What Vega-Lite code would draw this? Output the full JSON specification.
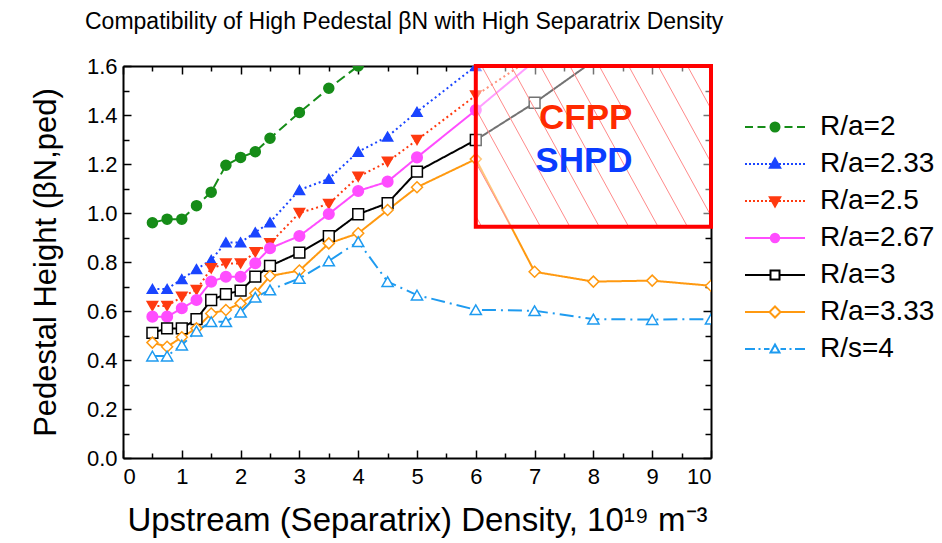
{
  "$schema": "https://vega.github.io/schema/vega-lite/v6.json",
  "width": 588,
  "height": 392,
  "autosize": {"type": "none"},
  "padding": {"left": 123, "top": 66, "right": 231, "bottom": 85},
  "background": "white",
  "config": {"view": {"stroke": null}, "font": "Liberation Sans"},
  "title": {
    "text": "Compatibility of High Pedestal βN with High Separatrix Density",
    "anchor": "start",
    "frame": "group",
    "dx": -38,
    "offset": 21,
    "font": "Liberation Sans",
    "fontSize": 23,
    "fontWeight": "normal",
    "color": "black"
  },
  "datasets": {
    "series": [
      {"s": "R/a=2", "x": 0.5, "y": 0.96}, {"s": "R/a=2", "x": 0.75, "y": 0.975}, {"s": "R/a=2", "x": 1, "y": 0.975},
      {"s": "R/a=2", "x": 1.25, "y": 1.03}, {"s": "R/a=2", "x": 1.5, "y": 1.085}, {"s": "R/a=2", "x": 1.75, "y": 1.195},
      {"s": "R/a=2", "x": 2, "y": 1.227}, {"s": "R/a=2", "x": 2.25, "y": 1.25}, {"s": "R/a=2", "x": 2.5, "y": 1.305},
      {"s": "R/a=2", "x": 3, "y": 1.41}, {"s": "R/a=2", "x": 3.5, "y": 1.509}, {"s": "R/a=2", "x": 4, "y": 1.6},

      {"s": "R/a=2.33", "x": 0.5, "y": 0.69}, {"s": "R/a=2.33", "x": 0.75, "y": 0.69}, {"s": "R/a=2.33", "x": 1, "y": 0.73},
      {"s": "R/a=2.33", "x": 1.25, "y": 0.771}, {"s": "R/a=2.33", "x": 1.5, "y": 0.808}, {"s": "R/a=2.33", "x": 1.75, "y": 0.88},
      {"s": "R/a=2.33", "x": 2, "y": 0.88}, {"s": "R/a=2.33", "x": 2.25, "y": 0.921}, {"s": "R/a=2.33", "x": 2.5, "y": 0.962},
      {"s": "R/a=2.33", "x": 3, "y": 1.094}, {"s": "R/a=2.33", "x": 3.5, "y": 1.139}, {"s": "R/a=2.33", "x": 4, "y": 1.25},
      {"s": "R/a=2.33", "x": 4.5, "y": 1.312}, {"s": "R/a=2.33", "x": 5, "y": 1.413}, {"s": "R/a=2.33", "x": 6, "y": 1.6},

      {"s": "R/a=2.5", "x": 0.5, "y": 0.62}, {"s": "R/a=2.5", "x": 0.75, "y": 0.62}, {"s": "R/a=2.5", "x": 1, "y": 0.658},
      {"s": "R/a=2.5", "x": 1.25, "y": 0.686}, {"s": "R/a=2.5", "x": 1.5, "y": 0.774}, {"s": "R/a=2.5", "x": 1.75, "y": 0.794},
      {"s": "R/a=2.5", "x": 2, "y": 0.794}, {"s": "R/a=2.5", "x": 2.25, "y": 0.84}, {"s": "R/a=2.5", "x": 2.5, "y": 0.876},
      {"s": "R/a=2.5", "x": 3, "y": 1.0}, {"s": "R/a=2.5", "x": 3.5, "y": 1.037}, {"s": "R/a=2.5", "x": 4, "y": 1.148},
      {"s": "R/a=2.5", "x": 4.5, "y": 1.209}, {"s": "R/a=2.5", "x": 5, "y": 1.298}, {"s": "R/a=2.5", "x": 6, "y": 1.48},
      {"s": "R/a=2.5", "x": 7, "y": 1.64},

      {"s": "R/a=2.67", "x": 0.5, "y": 0.577}, {"s": "R/a=2.67", "x": 0.75, "y": 0.577}, {"s": "R/a=2.67", "x": 1, "y": 0.611},
      {"s": "R/a=2.67", "x": 1.25, "y": 0.645}, {"s": "R/a=2.67", "x": 1.5, "y": 0.72}, {"s": "R/a=2.67", "x": 1.75, "y": 0.74},
      {"s": "R/a=2.67", "x": 2, "y": 0.74}, {"s": "R/a=2.67", "x": 2.25, "y": 0.795}, {"s": "R/a=2.67", "x": 2.5, "y": 0.856},
      {"s": "R/a=2.67", "x": 3, "y": 0.906}, {"s": "R/a=2.67", "x": 3.5, "y": 0.996}, {"s": "R/a=2.67", "x": 4, "y": 1.09},
      {"s": "R/a=2.67", "x": 4.5, "y": 1.128}, {"s": "R/a=2.67", "x": 5, "y": 1.227}, {"s": "R/a=2.67", "x": 6, "y": 1.42},
      {"s": "R/a=2.67", "x": 7, "y": 1.62},

      {"s": "R/a=3", "x": 0.5, "y": 0.511}, {"s": "R/a=3", "x": 0.75, "y": 0.529}, {"s": "R/a=3", "x": 1, "y": 0.529},
      {"s": "R/a=3", "x": 1.25, "y": 0.567}, {"s": "R/a=3", "x": 1.5, "y": 0.645}, {"s": "R/a=3", "x": 1.75, "y": 0.669},
      {"s": "R/a=3", "x": 2, "y": 0.683}, {"s": "R/a=3", "x": 2.25, "y": 0.74}, {"s": "R/a=3", "x": 2.5, "y": 0.784},
      {"s": "R/a=3", "x": 3, "y": 0.838}, {"s": "R/a=3", "x": 3.5, "y": 0.906}, {"s": "R/a=3", "x": 4, "y": 0.995},
      {"s": "R/a=3", "x": 4.5, "y": 1.04}, {"s": "R/a=3", "x": 5, "y": 1.169}, {"s": "R/a=3", "x": 6, "y": 1.298},
      {"s": "R/a=3", "x": 7, "y": 1.45}, {"s": "R/a=3", "x": 8, "y": 1.62},

      {"s": "R/a=3.33", "x": 0.5, "y": 0.471}, {"s": "R/a=3.33", "x": 0.75, "y": 0.454}, {"s": "R/a=3.33", "x": 1, "y": 0.493},
      {"s": "R/a=3.33", "x": 1.25, "y": 0.529}, {"s": "R/a=3.33", "x": 1.5, "y": 0.59}, {"s": "R/a=3.33", "x": 1.75, "y": 0.604},
      {"s": "R/a=3.33", "x": 2, "y": 0.631}, {"s": "R/a=3.33", "x": 2.25, "y": 0.672}, {"s": "R/a=3.33", "x": 2.5, "y": 0.743},
      {"s": "R/a=3.33", "x": 3, "y": 0.765}, {"s": "R/a=3.33", "x": 3.5, "y": 0.876}, {"s": "R/a=3.33", "x": 4, "y": 0.917},
      {"s": "R/a=3.33", "x": 4.5, "y": 1.012}, {"s": "R/a=3.33", "x": 5, "y": 1.105}, {"s": "R/a=3.33", "x": 6, "y": 1.22},
      {"s": "R/a=3.33", "x": 7, "y": 0.76}, {"s": "R/a=3.33", "x": 8, "y": 0.72}, {"s": "R/a=3.33", "x": 9, "y": 0.724},
      {"s": "R/a=3.33", "x": 10, "y": 0.703},

      {"s": "R/s=4", "x": 0.5, "y": 0.416}, {"s": "R/s=4", "x": 0.75, "y": 0.416}, {"s": "R/s=4", "x": 1, "y": 0.461},
      {"s": "R/s=4", "x": 1.25, "y": 0.518}, {"s": "R/s=4", "x": 1.5, "y": 0.556}, {"s": "R/s=4", "x": 1.75, "y": 0.556},
      {"s": "R/s=4", "x": 2, "y": 0.595}, {"s": "R/s=4", "x": 2.25, "y": 0.656}, {"s": "R/s=4", "x": 2.5, "y": 0.686},
      {"s": "R/s=4", "x": 3, "y": 0.733}, {"s": "R/s=4", "x": 3.5, "y": 0.804}, {"s": "R/s=4", "x": 4, "y": 0.883},
      {"s": "R/s=4", "x": 4.5, "y": 0.72}, {"s": "R/s=4", "x": 5, "y": 0.665}, {"s": "R/s=4", "x": 6, "y": 0.605},
      {"s": "R/s=4", "x": 7, "y": 0.601}, {"s": "R/s=4", "x": 8, "y": 0.567}, {"s": "R/s=4", "x": 9, "y": 0.565},
      {"s": "R/s=4", "x": 10, "y": 0.567}
    ],
    "box": [{"x0": 6, "x1": 10, "y0": 0.944, "y1": 1.6}],
    "hatch": [
      {"x": 6, "y": 0.988, "x2": 6.1, "y2": 0.944},
      {"x": 6, "y": 1.206, "x2": 6.6, "y2": 0.944},
      {"x": 6, "y": 1.425, "x2": 7.1, "y2": 0.944},
      {"x": 6.1, "y": 1.6, "x2": 7.6, "y2": 0.944},
      {"x": 6.6, "y": 1.6, "x2": 8.1, "y2": 0.944},
      {"x": 7.1, "y": 1.6, "x2": 8.6, "y2": 0.944},
      {"x": 7.6, "y": 1.6, "x2": 9.1, "y2": 0.944},
      {"x": 8.1, "y": 1.6, "x2": 9.6, "y2": 0.944},
      {"x": 8.6, "y": 1.6, "x2": 10, "y2": 0.988},
      {"x": 9.1, "y": 1.6, "x2": 10, "y2": 1.206},
      {"x": 9.6, "y": 1.6, "x2": 10, "y2": 1.425}
    ],
    "notes": [
      {"label": "CFPP", "x": 7.87, "y": 1.387},
      {"label": "SHPD", "x": 7.84, "y": 1.213}
    ]
  },
  "layer": [
    {
      "data": {"name": "series"},
      "mark": {"type": "line", "clip": true, "strokeWidth": 2},
      "encoding": {
        "x": {
          "field": "x", "type": "quantitative",
          "scale": {"domain": [0, 10], "nice": false, "zero": false},
          "axis": {
            "orient": "bottom",
            "values": [0, 0.5, 1, 1.5, 2, 2.5, 3, 3.5, 4, 4.5, 5, 5.5, 6, 6.5, 7, 7.5, 8, 8.5, 9, 9.5, 10],
            "labelExpr": "datum.value % 1 == 0 ? datum.value : ''",
            "tickSize": {"condition": {"test": "datum.value % 1 != 0", "value": -5}, "value": -8},
            "tickColor": "black", "tickWidth": 1.5,
            "domainColor": "black", "domainWidth": 2,
            "grid": false,
            "labelFont": "Liberation Sans", "labelFontSize": 22, "labelColor": "black", "labelPadding": 16,
            "labelOverlap": false,
            "title": "Upstream (Separatrix) Density, 10¹⁹ m⁻³",
            "titleFont": "Liberation Sans", "titleFontSize": 33, "titleFontWeight": "normal", "titleColor": "black",
            "titlePadding": 14
          }
        },
        "y": {
          "field": "y", "type": "quantitative",
          "scale": {"domain": [0, 1.6], "nice": false, "zero": false},
          "axis": {
            "orient": "left",
            "values": [0, 0.1, 0.2, 0.3, 0.4, 0.5, 0.6, 0.7, 0.8, 0.9, 1.0, 1.1, 1.2, 1.3, 1.4, 1.5, 1.6],
            "labelExpr": "round(datum.value * 10) % 2 == 0 ? format(datum.value, '.1f') : ''",
            "tickSize": {"condition": {"test": "round(datum.value * 10) % 2 != 0", "value": -6}, "value": -8},
            "tickColor": "black", "tickWidth": 1.5,
            "domainColor": "black", "domainWidth": 2,
            "grid": false,
            "labelFont": "Liberation Sans", "labelFontSize": 22, "labelColor": "black", "labelPadding": 14,
            "labelOverlap": false,
            "title": "Pedestal Height (βN,ped)",
            "titleFont": "Liberation Sans", "titleFontSize": 31, "titleFontWeight": "normal", "titleColor": "black",
            "titlePadding": 24
          }
        },
        "color": {
          "field": "s", "type": "nominal", "legend": null,
          "scale": {
            "domain": ["R/a=2", "R/a=2.33", "R/a=2.5", "R/a=2.67", "R/a=3", "R/a=3.33", "R/s=4"],
            "range": ["#168c18", "#1a45ff", "#ff3a10", "#ff4dff", "#000000", "#ff9910", "#1e9bf0"]
          }
        },
        "strokeDash": {
          "field": "s", "type": "nominal", "legend": null,
          "scale": {
            "domain": ["R/a=2", "R/a=2.33", "R/a=2.5", "R/a=2.67", "R/a=3", "R/a=3.33", "R/s=4"],
            "range": [[10, 5], [2, 3], [2, 3], [1, 0], [1, 0], [1, 0], [14, 5, 2, 5]]
          }
        }
      }
    },
    {
      "data": {"name": "series"},
      "mark": {"type": "point", "clip": true, "strokeWidth": 1.5, "opacity": 1},
      "encoding": {
        "x": {
          "field": "x", "type": "quantitative",
          "scale": {"domain": [0, 10], "nice": false, "zero": false},
          "axis": {
            "orient": "top",
            "values": [0, 0.5, 1, 1.5, 2, 2.5, 3, 3.5, 4, 4.5, 5, 5.5, 6, 6.5, 7, 7.5, 8, 8.5, 9, 9.5, 10],
            "labels": false, "title": null, "grid": false,
            "tickSize": {"condition": {"test": "datum.value % 1 != 0", "value": -5}, "value": -8},
            "tickColor": "black", "tickWidth": 1.5,
            "domainColor": "black", "domainWidth": 2
          }
        },
        "y": {
          "field": "y", "type": "quantitative",
          "scale": {"domain": [0, 1.6], "nice": false, "zero": false},
          "axis": {
            "orient": "right",
            "values": [0, 0.1, 0.2, 0.3, 0.4, 0.5, 0.6, 0.7, 0.8, 0.9, 1.0, 1.1, 1.2, 1.3, 1.4, 1.5, 1.6],
            "labels": false, "title": null, "grid": false,
            "tickSize": {"condition": {"test": "round(datum.value * 10) % 2 != 0", "value": -6}, "value": -8},
            "tickColor": "black", "tickWidth": 1.5,
            "domainColor": "black", "domainWidth": 2
          }
        },
        "shape": {
          "field": "s", "type": "nominal", "legend": null,
          "scale": {
            "domain": ["R/a=2", "R/a=2.33", "R/a=2.5", "R/a=2.67", "R/a=3", "R/a=3.33", "R/s=4"],
            "range": ["circle", "triangle-up", "triangle-down", "circle", "square", "diamond", "triangle-up"]
          }
        },
        "size": {
          "field": "s", "type": "nominal", "legend": null,
          "scale": {
            "domain": ["R/a=2", "R/a=2.33", "R/a=2.5", "R/a=2.67", "R/a=3", "R/a=3.33", "R/s=4"],
            "range": [100, 125, 125, 100, 81, 130, 115]
          }
        },
        "fill": {
          "field": "s", "type": "nominal", "legend": null,
          "scale": {
            "domain": ["R/a=2", "R/a=2.33", "R/a=2.5", "R/a=2.67", "R/a=3", "R/a=3.33", "R/s=4"],
            "range": ["#168c18", "#1a45ff", "#ff3a10", "#ff4dff", "#ffffff", "#ffffff", "#ffffff"]
          }
        },
        "stroke": {
          "field": "s", "type": "nominal", "legend": null,
          "scale": {
            "domain": ["R/a=2", "R/a=2.33", "R/a=2.5", "R/a=2.67", "R/a=3", "R/a=3.33", "R/s=4"],
            "range": ["#168c18", "#1a45ff", "#ff3a10", "#ff4dff", "#000000", "#ff9910", "#1e9bf0"]
          }
        }
      }
    },
    {
      "data": {"name": "box"},
      "mark": {"type": "rect", "fill": "white", "opacity": 0.45},
      "encoding": {
        "x": {"field": "x0", "type": "quantitative", "scale": {"domain": [0, 10], "nice": false, "zero": false}, "axis": null},
        "x2": {"field": "x1"},
        "y": {"field": "y0", "type": "quantitative", "scale": {"domain": [0, 1.6], "nice": false, "zero": false}, "axis": null},
        "y2": {"field": "y1"}
      }
    },
    {
      "data": {"name": "hatch"},
      "mark": {"type": "rule", "color": "#ff8a8a", "strokeWidth": 1},
      "encoding": {
        "x": {"field": "x", "type": "quantitative", "scale": {"domain": [0, 10], "nice": false, "zero": false}, "axis": null},
        "x2": {"field": "x2"},
        "y": {"field": "y", "type": "quantitative", "scale": {"domain": [0, 1.6], "nice": false, "zero": false}, "axis": null},
        "y2": {"field": "y2"}
      }
    },
    {
      "data": {"name": "box"},
      "mark": {"type": "rect", "fill": null, "fillOpacity": 0, "stroke": "#ff0000", "strokeWidth": 4},
      "encoding": {
        "x": {"field": "x0", "type": "quantitative", "scale": {"domain": [0, 10], "nice": false, "zero": false}, "axis": null},
        "x2": {"field": "x1"},
        "y": {"field": "y0", "type": "quantitative", "scale": {"domain": [0, 1.6], "nice": false, "zero": false}, "axis": null},
        "y2": {"field": "y1"}
      }
    },
    {
      "data": {"name": "notes"},
      "mark": {"type": "text", "font": "Liberation Sans", "fontSize": 35, "fontWeight": "bold", "align": "center", "baseline": "middle"},
      "encoding": {
        "x": {"field": "x", "type": "quantitative", "scale": {"domain": [0, 10], "nice": false, "zero": false}, "axis": null},
        "y": {"field": "y", "type": "quantitative", "scale": {"domain": [0, 1.6], "nice": false, "zero": false}, "axis": null},
        "text": {"field": "label"},
        "fill": {
          "field": "label", "type": "nominal", "legend": null,
          "scale": {"domain": ["CFPP", "SHPD"], "range": ["#ff2a00", "#0a3cff"]}
        }
      }
    },
    {
      "data": {"name": "series"},
      "mark": {"type": "point", "clip": true, "opacity": 0, "strokeWidth": 2},
      "encoding": {
        "x": {"field": "x", "type": "quantitative", "scale": {"domain": [0, 10], "nice": false, "zero": false}, "axis": null},
        "y": {"field": "y", "type": "quantitative", "scale": {"domain": [0, 1.6], "nice": false, "zero": false}, "axis": null},
        "shape": {
          "field": "s", "type": "nominal",
          "scale": {
            "domain": ["R/a=2", "R/a=2.33", "R/a=2.5", "R/a=2.67", "R/a=3", "R/a=3.33", "R/s=4"],
            "range": [
              "M-3,0H-2.2M-1.75,0H-0.95M-0.5,0H0.5M0.95,0H1.75M2.2,0H3M-0.45,0A0.45,0.45,0,1,1,0.45,0A0.45,0.45,0,1,1,-0.45,0Z",
              "M-3,0h0.2M-2.6,0h0.2M-2.2,0h0.2M-1.8,0h0.2M-1.4,0h0.2M-1,0h0.2M-0.6,0h0.2M0.4,0h0.2M0.8,0h0.2M1.2,0h0.2M1.6,0h0.2M2,0h0.2M2.4,0h0.2M2.8,0h0.2M0,-0.55L0.52,0.38L-0.52,0.38Z",
              "M-3,0h0.2M-2.6,0h0.2M-2.2,0h0.2M-1.8,0h0.2M-1.4,0h0.2M-1,0h0.2M-0.6,0h0.2M0.4,0h0.2M0.8,0h0.2M1.2,0h0.2M1.6,0h0.2M2,0h0.2M2.4,0h0.2M2.8,0h0.2M0,0.55L0.52,-0.38L-0.52,-0.38Z",
              "M-3,0H3M-0.42,0A0.42,0.42,0,1,1,0.42,0A0.42,0.42,0,1,1,-0.42,0Z",
              "M-3,0H-0.45M0.45,0H3M-0.45,-0.45H0.45V0.45H-0.45Z",
              "M-3,0H-0.55M0.55,0H3M0,-0.55L0.55,0L0,0.55L-0.55,0Z",
              "M-3,0H-2M-1.65,0H-1.45M-1.1,0H-0.55M0.55,0H1.1M1.45,0H1.65M2,0H3M0,-0.45L0.45,0.35L-0.45,0.35Z"
            ]
          },
          "legend": {
            "title": null, "orient": "none", "legendX": 638, "legendY": 47,
            "padding": 0, "symbolSize": 400, "symbolStrokeWidth": 2, "symbolOpacity": 1,
            "labelFont": "Liberation Sans", "labelFontSize": 28, "labelColor": "black", "labelOffset": 31,
            "labelLimit": 300, "rowPadding": 9
          }
        },
        "fill": {
          "field": "s", "type": "nominal",
          "scale": {
            "domain": ["R/a=2", "R/a=2.33", "R/a=2.5", "R/a=2.67", "R/a=3", "R/a=3.33", "R/s=4"],
            "range": ["#168c18", "#1a45ff", "#ff3a10", "#ff4dff", "#ffffff", "#ffffff", "#ffffff"]
          },
          "legend": {
            "title": null, "orient": "none", "legendX": 638, "legendY": 47,
            "padding": 0, "symbolSize": 400, "symbolStrokeWidth": 2, "symbolOpacity": 1,
            "labelFont": "Liberation Sans", "labelFontSize": 28, "labelColor": "black", "labelOffset": 31,
            "labelLimit": 300, "rowPadding": 9
          }
        },
        "stroke": {
          "field": "s", "type": "nominal",
          "scale": {
            "domain": ["R/a=2", "R/a=2.33", "R/a=2.5", "R/a=2.67", "R/a=3", "R/a=3.33", "R/s=4"],
            "range": ["#168c18", "#1a45ff", "#ff3a10", "#ff4dff", "#000000", "#ff9910", "#1e9bf0"]
          },
          "legend": {
            "title": null, "orient": "none", "legendX": 638, "legendY": 47,
            "padding": 0, "symbolSize": 400, "symbolStrokeWidth": 2, "symbolOpacity": 1,
            "labelFont": "Liberation Sans", "labelFontSize": 28, "labelColor": "black", "labelOffset": 31,
            "labelLimit": 300, "rowPadding": 9
          }
        }
      }
    }
  ],
  "resolve": {
    "scale": {"color": "independent", "strokeDash": "independent", "shape": "independent", "size": "independent", "fill": "independent", "stroke": "independent"},
    "axis": {"x": "independent", "y": "independent"}
  }
}
